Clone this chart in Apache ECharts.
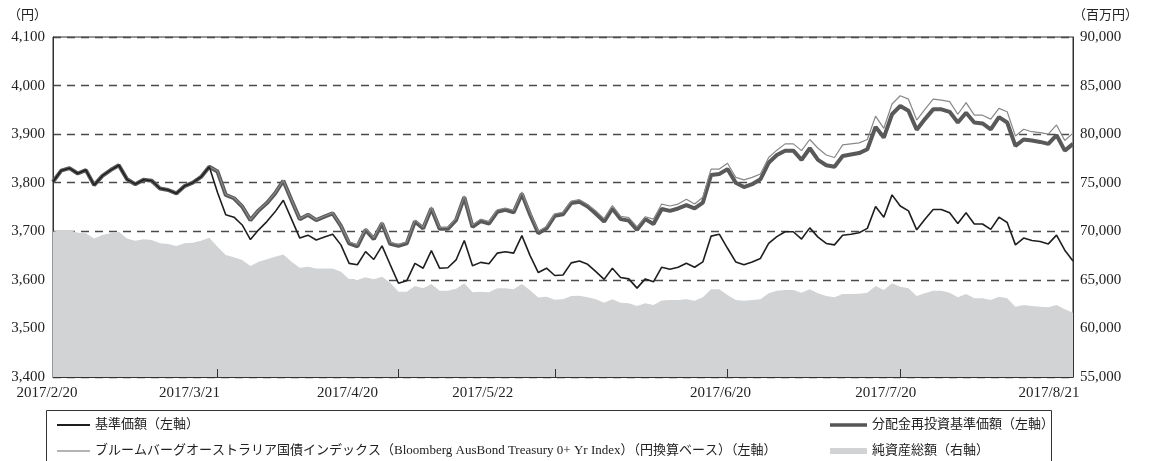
<!DOCTYPE html>
<html>
<head>
<meta charset="utf-8">
<script src="https://cdn.jsdelivr.net/npm/echarts@6/dist/echarts.min.js"></script>
<style>
  html,body{margin:0;padding:0;background:#fff;}
  #chart{width:1150px;height:461px;}
</style>
</head>
<body>
<div id="chart"></div>
<script>
// 営業日（2017/2/20〜2017/8/21）
const tradingDays = [
  ['2017/2', [20,21,22,23,24,27,28]],
  ['2017/3', [1,2,3,6,7,8,9,10,13,14,15,16,17,21,22,23,24,27,28,29,30,31]],
  ['2017/4', [3,4,5,6,7,10,11,12,13,14,17,18,19,20,21,24,25,26,27,28]],
  ['2017/5', [1,2,8,9,10,11,12,15,16,17,18,19,22,23,24,25,26,29,30,31]],
  ['2017/6', [1,2,5,6,7,8,9,12,13,14,15,16,19,20,21,22,23,26,27,28,29,30]],
  ['2017/7', [3,4,5,6,7,10,11,12,13,14,18,19,20,21,24,25,26,27,28,31]],
  ['2017/8', [1,2,3,4,7,8,9,10,14,15,16,17,18,21]]
];
const categories = [];
tradingDays.forEach(m => m[1].forEach(d => categories.push(m[0] + '/' + d)));

const tickDates = ['2017/2/20','2017/3/21','2017/4/20','2017/5/22','2017/6/20','2017/7/20','2017/8/21'];

// 基準価額（左軸）
const nav = [
  3802,3825,3830,3819,3826,3795,3814,3826,3836,3807,3797,3806,3804,3788,3785,3778,3793,3800,3812,3833,
  3780,3734,3729,3713,3683,3703,3720,3740,3764,3725,3686,3692,3682,3688,3694,3672,3634,3631,3658,3642,
  3670,3631,3593,3598,3634,3624,3660,3624,3625,3641,3681,3629,3636,3633,3655,3658,3655,3691,3650,3615,
  3624,3609,3610,3635,3639,3632,3617,3601,3624,3605,3602,3583,3602,3596,3626,3622,3626,3634,3626,3637,
  3690,3694,3665,3637,3631,3637,3644,3675,3689,3699,3699,3684,3707,3688,3675,3672,3692,3694,3697,3706,
  3751,3729,3775,3752,3742,3703,3725,3745,3745,3738,3716,3738,3715,3715,3704,3729,3718,3672,3686,3681,
  3679,3674,3692,3661,3639
];
// 分配金再投資基準価額（左軸）
const reinvest = [
  3802,3825,3830,3819,3826,3795,3814,3826,3836,3807,3797,3806,3804,3788,3785,3778,3793,3800,3812,3833,
  3823,3775,3768,3751,3723,3743,3758,3778,3804,3764,3725,3734,3723,3730,3737,3711,3675,3669,3703,3684,
  3716,3674,3670,3675,3720,3706,3747,3705,3705,3723,3770,3709,3721,3716,3740,3744,3739,3777,3734,3696,
  3706,3732,3735,3758,3761,3751,3736,3720,3747,3725,3722,3703,3725,3715,3746,3742,3747,3754,3747,3759,
  3816,3818,3828,3800,3791,3797,3807,3841,3857,3866,3866,3847,3871,3847,3836,3833,3855,3858,3861,3869,
  3915,3893,3941,3958,3948,3909,3931,3951,3951,3946,3924,3944,3924,3922,3910,3935,3924,3876,3889,3887,
  3884,3880,3898,3866,3880
];
// ブルームバーグ・オーストラリア国債インデックス（円換算）（左軸）
const bondIndex = [
  3802,3825,3830,3819,3826,3795,3814,3826,3836,3807,3797,3806,3804,3788,3785,3778,3793,3800,3812,3833,
  3824,3776,3769,3752,3724,3744,3759,3779,3805,3765,3726,3735,3724,3731,3738,3712,3678,3672,3706,3687,
  3719,3677,3673,3678,3723,3709,3750,3708,3708,3726,3773,3713,3725,3720,3744,3748,3743,3781,3738,3700,
  3710,3736,3739,3762,3765,3755,3742,3726,3753,3731,3728,3709,3730,3725,3756,3752,3756,3766,3756,3770,
  3828,3828,3840,3811,3806,3811,3818,3852,3867,3880,3880,3866,3889,3871,3857,3852,3878,3880,3882,3889,
  3937,3912,3962,3979,3972,3929,3951,3972,3970,3967,3941,3965,3939,3939,3931,3953,3946,3896,3910,3905,
  3903,3900,3919,3887,3902
];
// 純資産総額（百万円、右軸）
const netAssets = [
  69960,70130,70130,69860,69790,69270,69620,69790,69960,69270,69030,69170,69100,68760,68690,68480,68760,68830,69030,69340,
  68410,67560,67320,67040,66430,66870,67110,67380,67620,66870,66240,66350,66180,66180,66180,65840,65060,64990,65260,65060,
  65330,64710,63780,63780,64370,64130,64570,63880,63870,64080,64640,63730,63780,63730,64130,64130,64030,64570,63920,63180,
  63270,62960,63010,63340,63370,63200,63000,62650,63000,62650,62580,62310,62580,62400,62870,62930,62930,63000,62860,63200,
  64030,64030,63440,62930,62860,62930,63000,63610,63880,63960,63960,63680,64030,63610,63340,63200,63540,63550,63560,63680,
  64370,63960,64640,64300,64130,63340,63610,63880,63880,63680,63200,63540,63100,63100,62930,63270,63100,62240,62410,62310,
  62240,62170,62410,61970,61620
];

const FONT = "'Liberation Serif', 'Noto Sans CJK JP', serif";
const TXT = '#222';

const NAME_NAV = '基準価額（左軸）';
const NAME_IDX = 'ブルームバーグオーストラリア国債インデックス（Bloomberg AusBond Treasury 0+ Yr Index）（円換算ベース）（左軸）';
const NAME_REI = '分配金再投資基準価額（左軸）';
const NAME_AST = '純資産総額（右軸）';

// 日付ラベルの横ずらし（元図の配置に合わせる）
const labelPad = [12, 56, 102, 144, 14, 29, 48];
const rich = {};
labelPad.forEach((p, k) => { rich['l' + k] = { padding: [0, p, 0, 0], fontSize: 15, fontFamily: FONT, color: TXT }; });

function legendItem(name, left, top, w, h, color) {
  return {
    orient: 'horizontal', left: left, top: top, padding: 0,
    itemWidth: w, itemHeight: h, selectedMode: false,
    textStyle: { fontSize: 13, color: TXT, fontFamily: FONT, lineHeight: 16 },
    data: [{ name: name, icon: 'rect', itemStyle: { color: color, borderWidth: 0 } }]
  };
}

const chart = echarts.init(document.getElementById('chart'));
chart.setOption({
  animation: false,
  backgroundColor: '#fff',
  textStyle: { fontFamily: FONT, color: TXT },
  grid: { left: 53, right: 77, top: 37, bottom: 84, show: true, borderColor: '#333', borderWidth: 1, backgroundColor: 'transparent' },
  legend: [
    legendItem(NAME_NAV, 57, 417, 33, 2, '#1e1e1e'),
    legendItem(NAME_IDX, 57, 443, 33, 1.2, '#6a6a6a'),
    legendItem(NAME_REI, 830, 417, 37, 3.5, '#555'),
    legendItem(NAME_AST, 830, 443, 37, 6, '#d2d3d5')
  ],
  graphic: [
    { type: 'rect', shape: { x: 46.5, y: 410.5, width: 1005, height: 70 }, style: { fill: 'none', stroke: '#333', lineWidth: 1 }, silent: true }
  ],
  xAxis: {
    type: 'category',
    data: categories,
    boundaryGap: false,
    z: 5,
    axisLine: { lineStyle: { color: '#333', width: 1 } },
    axisTick: {
      inside: true, length: 8, lineStyle: { color: '#333' },
      interval: (i, v) => tickDates.indexOf(v) > 0 && tickDates.indexOf(v) < tickDates.length - 1
    },
    axisLabel: {
      interval: (i, v) => tickDates.indexOf(v) >= 0,
      margin: 9,
      hideOverlap: false,
      showMinLabel: true, showMaxLabel: true,
      formatter: v => '{l' + tickDates.indexOf(v) + '|' + v + '}',
      rich: rich
    },
    splitLine: { show: false }
  },
  yAxis: [
    {
      type: 'value', min: 3400, max: 4100, interval: 100,
      name: '（円）', nameLocation: 'end', nameGap: 15,
      nameTextStyle: { fontSize: 13, color: TXT, fontFamily: FONT, align: 'right', padding: [0, 6, 0, 0] },
      axisLine: { show: true, lineStyle: { color: '#333' } },
      axisTick: { show: false },
      axisLabel: { fontSize: 15, color: TXT, fontFamily: FONT, margin: 8, formatter: v => v.toLocaleString('en-US') },
      splitLine: { show: true, lineStyle: { type: [8, 6], color: '#4a4a4a', width: 1.3 } }
    },
    {
      type: 'value', min: 55000, max: 90000, interval: 5000, position: 'right',
      name: '（百万円）', nameLocation: 'end', nameGap: 15,
      nameTextStyle: { fontSize: 13, color: TXT, fontFamily: FONT, align: 'left', padding: [0, 0, 0, 0] },
      axisLine: { show: true, lineStyle: { color: '#333' } },
      axisTick: { show: false },
      axisLabel: { fontSize: 15, color: TXT, fontFamily: FONT, margin: 7, formatter: v => v.toLocaleString('en-US') },
      splitLine: { show: false }
    }
  ],
  series: [
    {
      name: NAME_AST, type: 'line', yAxisIndex: 1, data: netAssets,
      symbol: 'none', color: '#d2d3d5',
      lineStyle: { width: 0 }, areaStyle: { color: '#d2d3d5', opacity: 1, origin: 'start' }, z: 1
    },
    {
      name: NAME_REI, type: 'line', data: reinvest,
      symbol: 'none', color: '#555', lineStyle: { width: 4, color: '#595959' }, z: 2
    },
    {
      name: NAME_IDX, type: 'line', data: bondIndex,
      symbol: 'none', color: '#8a8a8a', lineStyle: { width: 1.2, color: '#888' }, z: 3
    },
    {
      name: NAME_NAV, type: 'line', data: nav,
      symbol: 'none', color: '#1e1e1e', lineStyle: { width: 1.6, color: '#1e1e1e' }, z: 4
    }
  ]
});
</script>
</body>
</html>
